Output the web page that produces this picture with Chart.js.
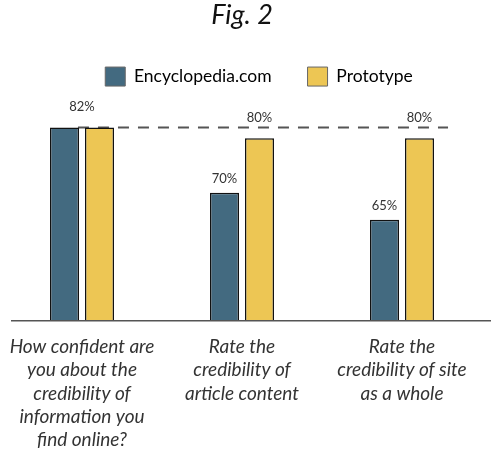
<!DOCTYPE html>
<html>
<head>
<meta charset="utf-8">
<script src="https://cdn.jsdelivr.net/npm/chart.js@4"></script>
<style>
html,body{margin:0;padding:0;background:#fff;}
#wrap{width:492px;height:458px;position:relative;}
</style>
</head>
<body>
<div id="wrap"><canvas id="c" width="492" height="458"></canvas></div>
<script>
const categories = [
  ["How confident are", "you about the", "credibility of", "information you", "find online?"],
  ["Rate the", "credibility of", "article content"],
  ["Rate the", "credibility of site", "as a whole"]
];
const seriesNames = ["Encyclopedia.com", "Prototype"];
const encyclopediaValues = [82, 70, 65];
const prototypeValues = [82, 80, 80];
const titleText = "Fig. 2";

const BLUE = "#436A80";
const YELLOW = "#EDC654";

const extrasPlugin = {
  id: "extras",
  afterLayout(chart) {
    if (chart.legend) {
      chart.legend.left += 17;
      chart.legend.right += 17;
    }
  },
  beforeDatasetsDraw(chart) {
    const ctx = chart.ctx;
    const y = chart.scales.y;
    const maxVal = Math.max(...encyclopediaValues, ...prototypeValues);
    const yy = y.getPixelForValue(maxVal);
    const m1 = chart.getDatasetMeta(1).data;
    const x0 = m1[0].x - m1[0].width / 2 - 7;
    const x1 = m1[m1.length - 1].x + m1[m1.length - 1].width / 2 + 14;
    ctx.save();
    ctx.strokeStyle = "#555";
    ctx.lineWidth = 2;
    ctx.setLineDash([11, 9]);
    ctx.beginPath();
    ctx.moveTo(x0, yy);
    ctx.lineTo(x1, yy);
    ctx.stroke();
    ctx.restore();
  },
  afterDatasetsDraw(chart) {
    const ctx = chart.ctx;
    const area = chart.chartArea;
    const y = chart.scales.y;
    const maxVal = Math.max(...encyclopediaValues, ...prototypeValues);
    const dashY = y.getPixelForValue(maxVal);
    ctx.save();
    ctx.strokeStyle = "#555";
    ctx.lineWidth = 1.5;
    ctx.beginPath();
    ctx.moveTo(11, area.bottom + 0.5);
    ctx.lineTo(491, area.bottom + 0.5);
    ctx.stroke();
    ctx.fillStyle = "#333";
    ctx.font = "13px Lato";
    ctx.textAlign = "center";
    ctx.textBaseline = "middle";
    const m0 = chart.getDatasetMeta(0).data;
    const m1 = chart.getDatasetMeta(1).data;
    const off = (by) => (Math.abs(by - dashY) < 12 ? 21 : 14);
    for (let i = 0; i < categories.length; i++) {
      const a = encyclopediaValues[i], b = prototypeValues[i];
      if (a === b) {
        const cx = (m0[i].x + m1[i].x) / 2;
        ctx.fillText(a + "%", cx, m0[i].y - off(m0[i].y));
      } else {
        ctx.fillText(a + "%", m0[i].x, m0[i].y - off(m0[i].y));
        ctx.fillText(b + "%", m1[i].x, m1[i].y - off(m1[i].y));
      }
    }
    ctx.restore();
  }
};

new Chart(document.getElementById("c"), {
  type: "bar",
  data: {
    labels: categories,
    datasets: [
      { label: seriesNames[0], data: encyclopediaValues, backgroundColor: BLUE, borderColor: "#111", borderWidth: 1.5, borderSkipped: false },
      { label: seriesNames[1], data: prototypeValues, backgroundColor: YELLOW, borderColor: "#111", borderWidth: 1.5, borderSkipped: false }
    ]
  },
  options: {
    responsive: false,
    animation: false,
    devicePixelRatio: 1,
    layout: { padding: { left: 2, right: 10, top: 0, bottom: -9 } },
    datasets: { bar: { categoryPercentage: 0.4375, barPercentage: 0.83 } },
    plugins: {
      title: {
        display: true,
        text: titleText,
        color: "#111",
        font: { family: "Lato", size: 27, style: "italic", weight: "normal", lineHeight: 1.15 },
        padding: { top: 0, bottom: 0 }
      },
      legend: {
        display: true,
        labels: {
          color: "#333",
          font: { family: "Lato", size: 17.5 },
          boxWidth: 20,
          boxHeight: 19,
          padding: 36,
          generateLabels(chart) {
            return chart.data.datasets.map((d, i) => ({
              text: d.label,
              fillStyle: d.backgroundColor,
              strokeStyle: "#666",
              lineWidth: 1,
              datasetIndex: i,
              hidden: false
            }));
          }
        }
      },
      tooltip: { enabled: false }
    },
    scales: {
      x: {
        grid: { display: false, drawTicks: false },
        border: { display: false },
        afterFit(scale) { scale.paddingLeft = 0; scale.paddingRight = 0; },
        ticks: {
          color: "#333",
          font: { family: "Lato", size: 19, style: "italic", lineHeight: 1.23 },
          padding: 15,
          maxRotation: 0,
          autoSkip: false
        }
      },
      y: {
        display: false,
        min: 46.5,
        max: 87.8
      }
    }
  },
  plugins: [extrasPlugin]
});
</script>
</body>
</html>
